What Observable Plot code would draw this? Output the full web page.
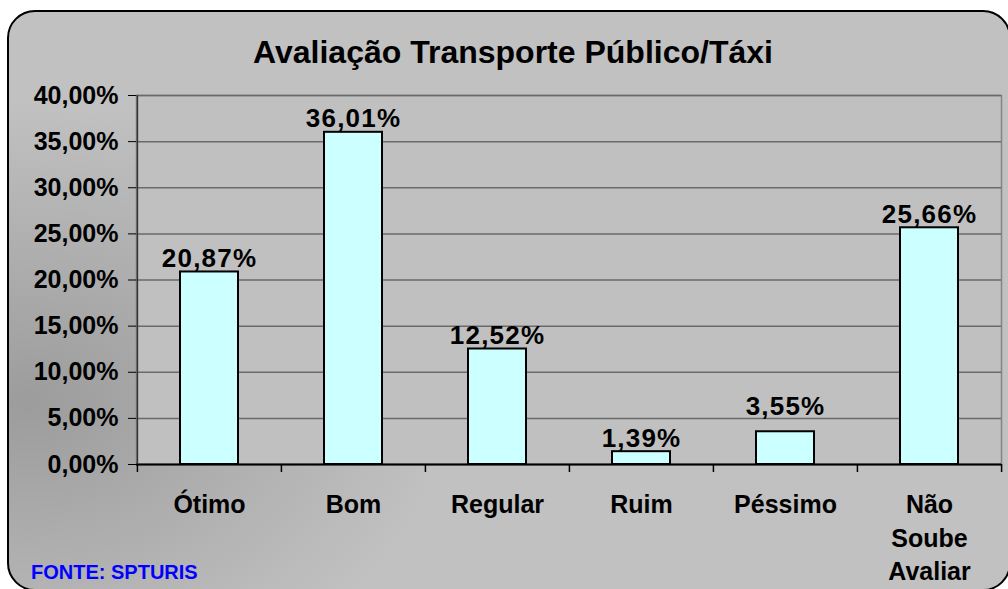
<!DOCTYPE html>
<html><head><meta charset="utf-8">
<script src="https://cdn.jsdelivr.net/npm/d3@7"></script>
<script src="https://cdn.jsdelivr.net/npm/@observablehq/plot@0.6"></script>
<style>
html,body{margin:0;padding:0;width:1008px;height:589px;overflow:hidden;background:#fff;font-family:"Liberation Sans",Arial,sans-serif;}
#wrap{position:relative;width:1008px;height:589px;overflow:hidden;}
#bg{position:absolute;left:7px;top:10px;width:1000px;height:577px;border:2px solid #000;border-radius:28px;background:radial-gradient(ellipse 420px 300px at 20px 390px,#9c9c9c 0%,#c1c1c1 100%);}
#title{position:absolute;left:13px;width:1000px;top:36px;line-height:1;text-align:center;font-weight:bold;font-size:32px;color:#000;}
#source{position:absolute;left:31px;top:562px;line-height:1;color:#0000ff;font-weight:bold;font-size:20px;}
#chart{position:absolute;left:0;top:0;}
svg g[aria-label="text"] text{letter-spacing:1.2px;}
</style>
</head>
<body>
<div id="wrap">
  <div id="bg"></div>
  <div id="chart"></div>
  <div id="title">Avaliação Transporte Público/Táxi</div>
  <div id="source">FONTE: SPTURIS</div>
</div>
<script>
const categories = ["Ótimo", "Bom", "Regular", "Ruim", "Péssimo", "Não Soube Avaliar"];
const values = [0.2087, 0.3601, 0.1252, 0.0139, 0.0355, 0.2566];
const yTicks = [0, 0.05, 0.10, 0.15, 0.20, 0.25, 0.30, 0.35, 0.40];

const data = categories.map((c, i) => ({category: c, value: values[i]}));
const W = 1008, H = 589, mL = 136, mR = 7, mT = 95, mB = 125;
const step = (W - mL - mR) / categories.length;
const pct = v => (v * 100).toFixed(2).replace(".", ",") + "%";
const raised = "Péssimo"; // label moved up above the gridline in the original

const chart = Plot.plot({
  width: W, height: H,
  marginLeft: mL, marginRight: mR, marginTop: mT, marginBottom: mB,
  style: {background: "transparent", fontFamily: '"Liberation Sans", Arial, sans-serif', fontWeight: "bold", color: "#000", overflow: "visible"},
  x: {domain: categories, paddingInner: 0.6, paddingOuter: 0.3, label: null},
  y: {domain: [0, 0.4], label: null},
  marks: [
    Plot.frame({fill: "#c0c0c0", stroke: "#858585", strokeWidth: 1.5}),
    Plot.ruleY(yTicks, {stroke: "#6a6a6a", strokeWidth: 1.5}),
    Plot.ruleY([0], {stroke: "#000", strokeWidth: 2}),
    Plot.ruleX(categories, {x: d => d, y1: 0, y2: 0, insetBottom: -8, dx: -step / 2, stroke: "#000", strokeWidth: 1.5}),
    Plot.ruleX([categories[categories.length - 1]], {x: d => d, y1: 0, y2: 0, insetBottom: -8, dx: step / 2, stroke: "#000", strokeWidth: 1.5}),
    Plot.ruleX([categories[0]], {x: d => d, y1: 0.4, y2: 0, dx: -step / 2, stroke: "#333", strokeWidth: 1.5}),
    Plot.barY(data, {x: "category", y: "value", fill: "#ccffff", stroke: "#000", strokeWidth: 2}),
    Plot.text(data.filter(d => d.category !== raised), {x: "category", y: "value", text: d => pct(d.value), lineAnchor: "bottom", dy: -5, fontSize: 26, fontWeight: "bold", fill: "#000"}),
    Plot.text(data.filter(d => d.category === raised), {x: "category", y: "value", text: d => pct(d.value), lineAnchor: "bottom", dy: -17, fontSize: 26, fontWeight: "bold", fill: "#000"}),
    Plot.axisY({ticks: yTicks, tickFormat: pct, tickSize: 8, tickPadding: 10, fontSize: 25, fontWeight: "bold", stroke: "#000"}),
    Plot.axisX({tickSize: 0, tickPadding: 25, fontSize: 25, fontWeight: "bold", lineHeight: 1.34, tickFormat: d => d.replace(/ /g, "\n")})
  ]
});
document.getElementById("chart").appendChild(chart);
</script>
</body></html>
